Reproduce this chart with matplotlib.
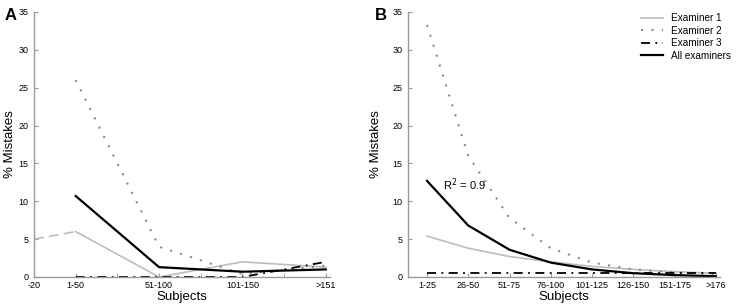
import matplotlib
matplotlib.use("Agg")
import matplotlib.pyplot as plt
import numpy as np

plt.rcParams['font.family'] = ['Liberation Sans', 'DejaVu Sans']

# Panel A data
a_labels = ["-20", "1-50", "51-100", "101-150", ">151"]
a_pos = [0.5, 1, 2, 3, 4]
a_ex1 = [6.0, 0.0, 2.0, 1.3]
a_ex1_ext = [5.0, 6.0]
a_ex2 = [26.0, 4.0, 0.4, 1.5]
a_ex3 = [0.0, 0.0, 0.0, 2.0]
a_all = [10.7, 1.3, 0.7, 1.0]

# Panel B data
b_labels = ["1-25", "26-50", "51-75", "76-100", "101-125", "126-150", "151-175", ">176"]
b_ex1 = [5.4, 3.8, 2.7, 2.0, 1.4, 1.0, 0.7, 0.5]
b_ex2 = [33.3, 16.0, 7.8, 3.8, 1.9, 1.0, 0.6, 0.4]
b_ex3 = [0.5, 0.5, 0.5, 0.5, 0.5, 0.5, 0.5, 0.5]
b_all = [12.7, 6.8, 3.6, 1.9, 1.0, 0.5, 0.25, 0.1]

fig = plt.figure(figsize=(7.43, 3.07), dpi=100)
axA = fig.add_axes([34/743, 30/307, 296/743, 265/307])
axB = fig.add_axes([408/743, 30/307, 312/743, 265/307])

gray1 = '#bdbdbd'
gray2 = '#8a8a8a'

def style(ax, ylx):
    for s in ['top', 'right']:
        ax.spines[s].set_visible(False)
    for s in ['left', 'bottom']:
        ax.spines[s].set_color('#9a9a9a')
        ax.spines[s].set_linewidth(1.0)
    ax.set_ylim(0, 35)
    ax.set_yticks(range(0, 36, 5))
    ax.tick_params(axis='both', which='both', direction='in', labelsize=6.5,
                   color='#9a9a9a', length=3, pad=3)
    ax.tick_params(axis='y', pad=4)
    ax.set_ylabel('% Mistakes', fontsize=9.5)
    ax.yaxis.set_label_coords(ylx, 0.5)
    ax.set_xlabel('Subjects', fontsize=9.5, labelpad=0.5)

# Panel A
xa = a_pos[1:]
axA.plot(a_pos[:2], a_ex1_ext, color=gray1, lw=1.2, ls=(0, (6, 3)))
axA.plot(xa, a_ex1, color=gray1, lw=1.2)
axA.plot(xa, a_ex2, color=gray2, lw=1.5, ls=(0, (1, 4)))
axA.plot(xa, a_ex3, color='black', lw=1.3, ls=(0, (5, 3, 1, 3)))
axA.plot(xa, a_all, color='black', lw=1.6)
axA.set_xlim(0.5, 4.05)
axA.set_xticks(a_pos)
axA.set_xticklabels(a_labels)
axA.set_xticks([1.5, 2.5, 3.5], minor=True)
style(axA, -0.06)

# Panel B
xb = np.arange(1, len(b_labels) + 1)
axB.plot(xb, b_ex1, color=gray1, lw=1.2, label='Examiner 1')
axB.plot(xb, b_ex2, color=gray2, lw=1.5, ls=(0, (1, 4)), label='Examiner 2')
axB.plot(xb, b_ex3, color='black', lw=1.3, ls=(0, (5, 3, 1, 3)), label='Examiner 3')
axB.plot(xb, b_all, color='black', lw=1.6, label='All examiners')
axB.set_xlim(0.54, 8.1)
axB.set_xticks(xb)
axB.set_xticklabels(b_labels)
style(axB, -0.083)
axB.text(1.38, 11.6, 'R$^2$ = 0.9', fontsize=8)
leg = axB.legend(loc='upper right', frameon=False, fontsize=7.2, handlelength=2.2,
                 labelspacing=0.25, handletextpad=0.8, bbox_to_anchor=(1.065, 1.03))

fig.text(5/743, 1 - 20/307, 'A', fontsize=12, fontweight='bold')
fig.text(375/743, 1 - 20/307, 'B', fontsize=12, fontweight='bold')

fig.savefig('out.png', dpi=100)
